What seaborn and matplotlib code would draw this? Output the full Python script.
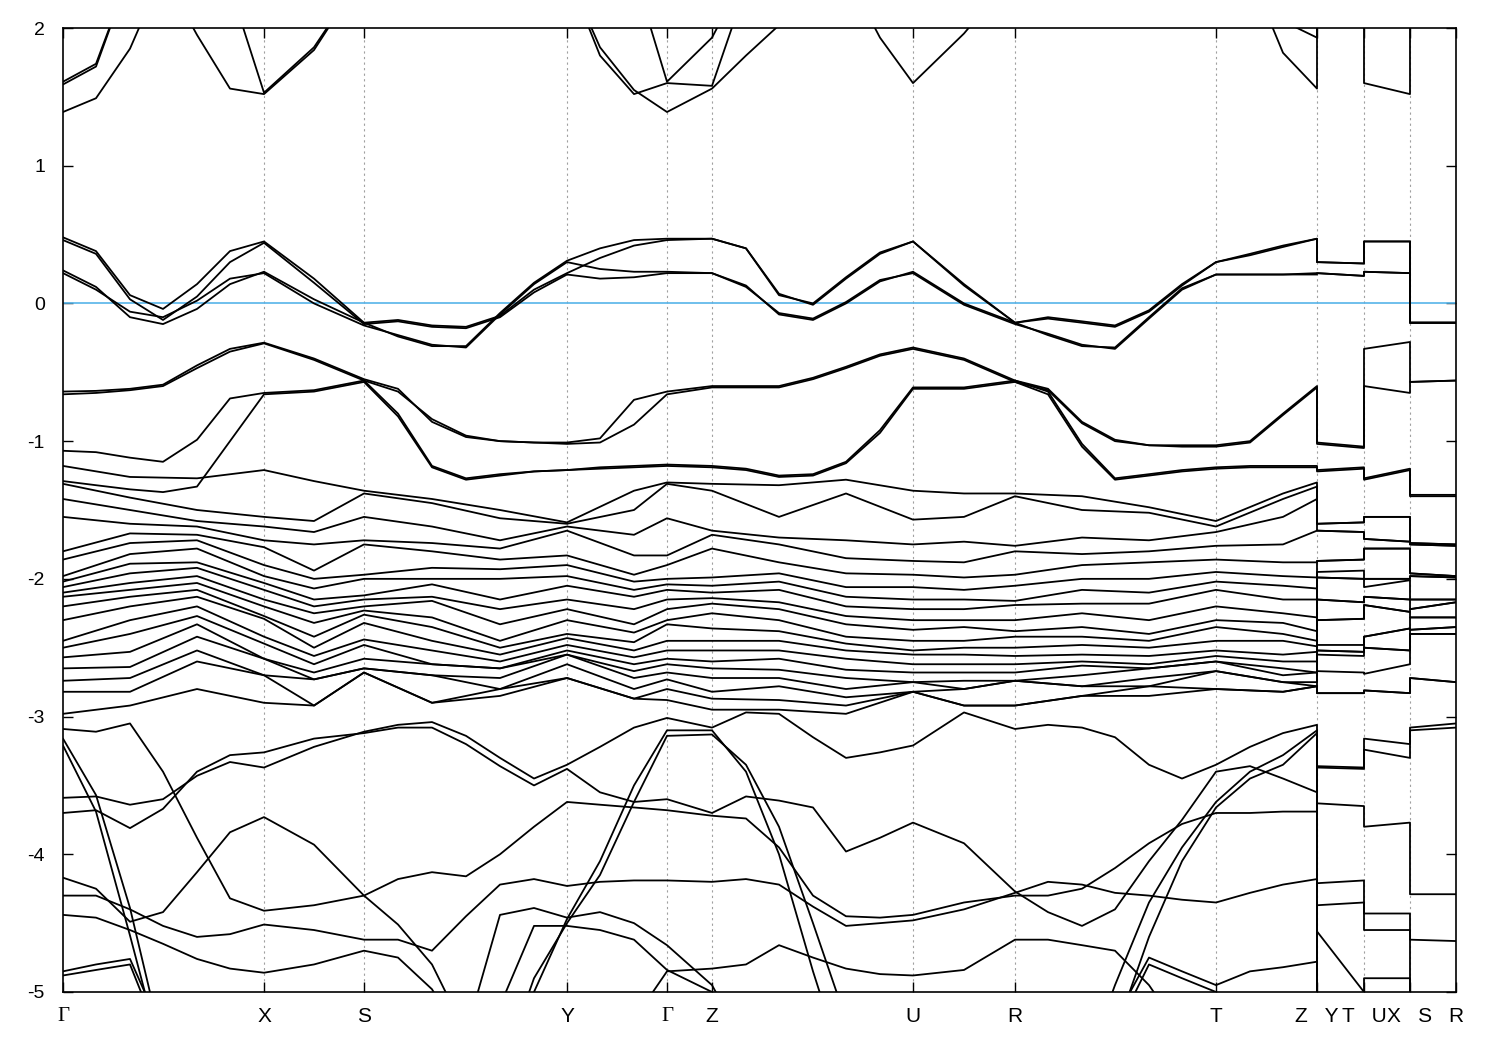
import numpy as np
import pandas as pd
import matplotlib
matplotlib.use('Agg')
import matplotlib.pyplot as plt
import seaborn as sns

# ── k-path ────────────────────────────────────────────────
K_TICKS  = [0, 201, 301, 504, 604, 649, 850, 952, 1153, 1254, 1301, 1347, 1393]
K_LABELS = ['Γ', 'X', 'S', 'Y', 'Γ', 'Z', 'U', 'R', 'T', 'Z   Y', 'T   U', 'X   S', 'R']

# main path  Γ-X-S-Y-Γ-Z-U-R-T-Z , then the short pieces Y-T | U-X | S-R
k_fine = [0, 33, 67, 100, 134, 167, 201, 251, 301, 335, 369, 403, 437, 471, 504,
          537, 571, 604, 649, 683, 716, 750, 783, 817, 850, 901, 952,
          985, 1019, 1052, 1086, 1119, 1153, 1187, 1220, 1254]
k_tail = [1254, 1301, 1301, 1347, 1347, 1393]
k_coarse = [0, 67, 134, 201, 251, 301, 369, 437, 504, 571, 604, 649, 716, 783,
            850, 901, 952, 1019, 1086, 1153, 1220, 1254]

# ── bands near the Fermi level (eV) ───────────────────────
band_f1 = [.48, .38, .06, -.04, .14, .38, .45,  .18, -.14,
           -.12, -.16, -.17, -.09, .10, .22,  .33, .42, .46,  .47,
           .40, .06, .00, .19, .37, .45,  .14, -.14,
           -.10, -.13, -.16, -.05, .14, .30,  .36, .42, .47,
           .30, .29, .45, .45, -.14, -.14]
band_f2 = [.46, .36, .03, -.12, .05, .30, .44,  .15, -.15,
           -.13, -.17, -.18, -.10, .08, .21,  .18, .19, .22,  .22,
           .13, -.08, -.12, .00, .16, .23,  .00, -.14,
           -.23, -.31, -.32, -.10, .11, .21,  .21, .21, .22,
           .22, .20, .23, .22, -.14, -.14]
band_f3 = [.24, .12, -.10, -.15, -.04, .14, .23,  .03, -.14,
           -.24, -.31, -.31, -.07, .15, .31,  .40, .46, .47,  .47,
           .40, .07, -.01, .18, .36, .45,  .13, -.14,
           -.11, -.14, -.17, -.06, .13, .30,  .35, .41, .47,
           .30, .29, .45, .45, -.14, -.14]
band_f4 = [.22, .10, -.06, -.10, .02, .18, .22,  .00, -.16,
           -.23, -.30, -.32, -.08, .14, .30,  .25, .23, .23,  .22,
           .12, -.07, -.11, .01, .17, .22,  -.01, -.15,
           -.22, -.30, -.33, -.11, .10, .21,  .21, .21, .21,
           .22, .20, .23, .22, -.14, -.14]

# ── conduction bands ──────────────────────────────────────
band_c1 = [1.39, 1.49, 1.85, 2.4, 1.95, 1.56, 1.52,  1.84, 2.4,
           2.4, 2.4, 2.4, 2.4, 2.4, 2.4,  1.86, 1.55, 1.39,  1.56,
           1.80, 2.02, 2.4, 2.4, 1.93, 1.60,  1.96, 2.4,
           2.4, 2.4, 2.4, 2.4, 2.4, 2.4,  2.4, 1.82, 1.56,
           2.4, 2.4, 1.60, 1.52, 2.4, 2.4]
band_c2 = [1.61, 1.74, 2.4, 2.4, 2.4, 2.3, 1.53,  1.86, 2.4,
           2.4, 2.4, 2.4, 2.4, 2.4, 2.4,  1.80, 1.52, 1.60,  1.58,
           2.3, 2.4, 2.4, 2.4, 2.4, 2.4,  2.4, 2.4,
           2.4, 2.4, 2.4, 2.4, 2.4, 2.4,  2.4, 2.05, 1.93,
           2.4, 2.4, 2.4, 2.4, 2.4, 2.4]
band_c3 = [1.59, 1.72, 2.4, 2.4, 2.4, 2.4, 2.4,  2.4, 2.4,
           2.4, 2.4, 2.4, 2.4, 2.4, 2.4,  2.4, 2.4, 1.61,  1.93,
           2.4, 2.4, 2.4, 2.4, 2.4, 2.4,  2.4, 2.4,
           2.4, 2.4, 2.4, 2.4, 2.4, 2.4,  2.4, 2.4, 2.4,
           2.4, 2.4, 2.4, 2.4, 2.4, 2.4]

# ── upper valence bands ───────────────────────────────────
band_v1 = [-.64, -.635, -.62, -.59, -.45, -.33, -.285,  -.40, -.55,
           -.62, -.86, -.97, -1.00, -1.01, -1.01,  -.98, -.70, -.64,  -.60,
           -.60, -.60, -.54, -.46, -.37, -.32,  -.40, -.56,
           -.62, -.86, -.99, -1.03, -1.03, -1.03,  -1.00, -.80, -.60,
           -1.01, -1.04, -.33, -.28, -.57, -.56]
band_v2 = [-1.07, -1.08, -1.12, -1.15, -.99, -.69, -.65,  -.63, -.56,
           -.80, -1.18, -1.27, -1.24, -1.22, -1.21,  -1.19, -1.18, -1.17,  -1.18,
           -1.20, -1.25, -1.24, -1.15, -.92, -.61,  -.61, -.56,
           -.64, -1.02, -1.27, -1.24, -1.21, -1.19,  -1.18, -1.18, -1.18,
           -1.21, -1.19, -1.27, -1.20, -1.39, -1.39]
band_v3 = [-.66, -.65, -.63, -.60, -.47, -.35, -.29,  -.41, -.56,
           -.64, -.84, -.96, -1.00, -1.01, -1.02,  -1.01, -.88, -.66,  -.61,
           -.61, -.61, -.55, -.47, -.38, -.33,  -.41, -.57,
           -.63, -.87, -1.00, -1.03, -1.04, -1.04,  -1.01, -.81, -.61,
           -1.02, -1.05, -.60, -.65, -.57, -.56]
band_v4 = [-1.29, -1.32, -1.35, -1.37, -1.33, -1.00, -.66,  -.64, -.57,
           -.82, -1.19, -1.28, -1.25, -1.22, -1.21,  -1.20, -1.19, -1.18,  -1.19,
           -1.21, -1.26, -1.25, -1.16, -.94, -.62,  -.62, -.57,
           -.66, -1.04, -1.28, -1.25, -1.22, -1.20,  -1.19, -1.19, -1.19,
           -1.22, -1.20, -1.28, -1.21, -1.40, -1.40]

# ── deep valence bands, traced one by one ─────────────────
band_la = [-3.59, -3.58, -3.64, -3.60, -3.43, -3.33, -3.37,  -3.22, -3.11,
           -3.06, -3.04, -3.14, -3.30, -3.45, -3.35,  -3.22, -3.08, -3.01,  -3.08,
           -2.97, -2.98, -3.15, -3.30, -3.26, -3.21,  -2.97, -3.09,
           -3.06, -3.08, -3.15, -3.35, -3.45, -3.35,  -3.22, -3.12, -3.06,
           -3.36, -3.37, -3.16, -3.20, -3.08, -3.05]
band_lb = [-3.70, -3.68, -3.81, -3.67, -3.40, -3.28, -3.26,  -3.16, -3.12,
           -3.08, -3.08, -3.20, -3.36, -3.50, -3.38,  -3.55, -3.62, -3.60,  -3.70,
           -3.58, -3.61, -3.66, -3.98, -3.88, -3.77,  -3.92, -4.27,
           -4.42, -4.52, -4.40, -4.05, -3.75, -3.40,  -3.36, -3.45, -3.55,
           -3.37, -3.38, -3.24, -3.30, -3.10, -3.08]
band_lc = [-3.09, -3.11, -3.05, -3.40, -3.88, -4.32, -4.41,  -4.37, -4.30,
           -4.18, -4.13, -4.16, -4.00, -3.80, -3.62,  -3.64, -3.66, -3.68,  -3.72,
           -3.74, -3.95, -4.30, -4.45, -4.46, -4.44,  -4.35, -4.30,
           -4.30, -4.25, -4.10, -3.92, -3.78, -3.70,  -3.70, -3.69, -3.69,
           -3.63, -3.65, -3.80, -3.77, -4.29, -4.29]
band_ld = [-4.17, -4.25, -4.49, -4.42, -4.13, -3.84, -3.73,  -3.93, -4.30,
           -4.51, -4.80, -5.30, -4.44, -4.39, -4.46,  -4.42, -4.50, -4.66,  -4.95,
           -5.40, -5.60, -5.60, -5.60, -5.60, -5.60,  -5.60, -5.60,
           -5.60, -5.60, -5.20, -4.75, -4.85, -4.95,  -4.85, -4.82, -4.78,
           -4.56, -5.00, -4.90, -4.90, -5.30, -5.30]
band_le = [-4.30, -4.30, -4.40, -4.52, -4.60, -4.58, -4.51,  -4.55, -4.62,
           -4.62, -4.70, -4.45, -4.22, -4.18, -4.23,  -4.20, -4.19, -4.19,  -4.20,
           -4.18, -4.22, -4.38, -4.52, -4.50, -4.48,  -4.40, -4.28,
           -4.20, -4.22, -4.28, -4.30, -4.33, -4.35,  -4.28, -4.22, -4.18,
           -4.21, -4.19, -4.43, -4.43, -4.62, -4.63]
band_lf = [-4.44, -4.46, -4.55, -4.65, -4.76, -4.83, -4.86,  -4.80, -4.70,
           -4.75, -4.98, -5.40, -5.60, -5.60, -5.60,  -5.60, -5.20, -4.85,  -4.83,
           -4.80, -4.66, -4.75, -4.83, -4.87, -4.88,  -4.84, -4.62,
           -4.62, -4.66, -4.70, -4.95, -5.30, -5.60,  -5.60, -5.60, -5.60,
           -5.60, -5.60, -5.60, -5.60, -5.60, -5.60]
band_lg = [-4.85, -4.80, -4.76, -5.30, -5.60, -5.60, -5.60,  -5.60, -5.60,
           -5.60, -5.60, -5.60, -5.10, -4.52, -4.52,  -4.55, -4.62, -4.84,  -5.00,
           -5.40, -5.60, -5.60, -5.60, -5.60, -5.60,  -5.60, -5.60,
           -5.60, -5.60, -5.30, -4.80, -4.90, -5.00,  -5.20, -5.40, -5.60,
           -4.37, -4.35, -4.55, -4.55, -5.40, -5.40]
band_lh = [-4.88, -4.84, -4.80, -5.40, -5.60, -5.60, -5.60,  -5.60, -5.60,
           -5.60, -5.60, -5.60, -5.60, -5.60, -5.60,  -5.60, -5.60, -5.60,  -5.60,
           -5.60, -5.60, -5.60, -5.60, -5.60, -5.60,  -5.60, -5.60,
           -5.60, -5.60, -5.60, -5.60, -5.60, -5.60,  -5.60, -5.60, -5.60,
           -5.60, -5.60, -5.60, -5.60, -5.60, -5.60]
band_s1 = [-3.16, -3.57, -4.39, -5.40, -5.60, -5.60, -5.60,  -5.60, -5.60,
           -5.60, -5.60, -5.60, -5.60, -5.00, -4.47,  -4.05, -3.50, -3.10,  -3.10,
           -3.40, -4.00, -4.85, -5.60, -5.60, -5.60,  -5.60, -5.60,
           -5.60, -5.60, -4.95, -4.35, -3.95, -3.62,  -3.40, -3.28, -3.10,
           -5.60, -5.60, -5.60, -5.60, -5.60, -5.60]
band_s2 = [-3.21, -3.69, -4.59, -5.50, -5.60, -5.60, -5.60,  -5.60, -5.60,
           -5.60, -5.60, -5.60, -5.60, -4.90, -4.50,  -4.15, -3.62, -3.14,  -3.13,
           -3.35, -3.80, -4.50, -5.20, -5.60, -5.60,  -5.60, -5.60,
           -5.60, -5.60, -5.30, -4.60, -4.05, -3.66,  -3.45, -3.35, -3.12,
           -5.60, -5.60, -5.60, -5.60, -5.60, -5.60]

# ── middle valence manifold (-1.2 … -3 eV): energies at each coarse k-point ──
# (a repeated value = two degenerate bands)
e_c00 = [-1.18, -1.31, -1.42, -1.55, -1.80, -1.86, -1.98, -2.02, -2.06, -2.10,
         -2.13, -2.20, -2.30, -2.45, -2.50, -2.57, -2.65, -2.74, -2.82, -2.98]
e_c01 = [-1.26, -1.41, -1.50, -1.60, -1.67, -1.74, -1.82, -1.89, -1.96, -2.03,
         -2.08, -2.13, -2.20, -2.30, -2.40, -2.53, -2.64, -2.72, -2.82, -2.92]
e_c02 = [-1.27, -1.50, -1.58, -1.62, -1.68, -1.72, -1.78, -1.88, -1.92, -1.98,
         -2.03, -2.08, -2.13, -2.20, -2.27, -2.33, -2.42, -2.52, -2.60, -2.80]
e_c03 = [-1.21, -1.55, -1.62, -1.72, -1.77, -1.90, -1.98, -2.03, -2.08, -2.15,
         -2.20, -2.27, -2.29, -2.42, -2.47, -2.58, -2.58, -2.70, -2.70, -2.90]
e_c04 = [-1.29, -1.58, -1.66, -1.75, -1.94, -2.00, -2.07, -2.15, -2.20, -2.25,
         -2.32, -2.42, -2.50, -2.56, -2.62, -2.68, -2.73, -2.73, -2.92, -2.92]
e_c05 = [-1.36, -1.38, -1.55, -1.72, -1.75, -1.97, -2.00, -2.12, -2.15, -2.20,
         -2.23, -2.26, -2.32, -2.44, -2.48, -2.58, -2.65, -2.65, -2.68, -2.68]
e_c06 = [-1.42, -1.45, -1.62, -1.74, -1.80, -1.92, -2.00, -2.04, -2.13, -2.16,
         -2.28, -2.35, -2.45, -2.52, -2.62, -2.62, -2.70, -2.70, -2.90, -2.90]
e_c07 = [-1.50, -1.56, -1.72, -1.78, -1.86, -1.93, -2.00, -2.15, -2.22, -2.33,
         -2.45, -2.50, -2.55, -2.60, -2.65, -2.65, -2.72, -2.80, -2.80, -2.85]
e_c08 = [-1.59, -1.60, -1.62, -1.65, -1.83, -1.90, -1.98, -2.05, -2.15, -2.22,
         -2.30, -2.40, -2.43, -2.48, -2.52, -2.55, -2.55, -2.62, -2.72, -2.72]
e_c09 = [-1.36, -1.50, -1.68, -1.83, -1.97, -2.02, -2.08, -2.13, -2.22, -2.33,
         -2.39, -2.46, -2.52, -2.57, -2.62, -2.67, -2.72, -2.80, -2.87, -2.87]
e_c10 = [-1.30, -1.31, -1.56, -1.83, -1.90, -2.00, -2.04, -2.08, -2.15, -2.22,
         -2.30, -2.33, -2.45, -2.52, -2.58, -2.62, -2.68, -2.73, -2.80, -2.88]
e_c11 = [-1.31, -1.36, -1.65, -1.68, -1.78, -1.99, -2.05, -2.10, -2.14, -2.18,
         -2.25, -2.36, -2.45, -2.52, -2.60, -2.65, -2.72, -2.82, -2.87, -2.95]
e_c12 = [-1.32, -1.55, -1.70, -1.75, -1.88, -1.96, -2.02, -2.08, -2.17, -2.22,
         -2.30, -2.38, -2.45, -2.52, -2.58, -2.66, -2.72, -2.78, -2.88, -2.95]
e_c13 = [-1.28, -1.38, -1.72, -1.85, -1.96, -2.06, -2.13, -2.20, -2.27, -2.33,
         -2.42, -2.47, -2.52, -2.58, -2.66, -2.72, -2.80, -2.86, -2.92, -2.98]
e_c14 = [-1.36, -1.57, -1.75, -1.87, -1.97, -2.06, -2.15, -2.22, -2.30, -2.37,
         -2.45, -2.52, -2.55, -2.62, -2.68, -2.75, -2.75, -2.82, -2.82, -2.82]
e_c15 = [-1.38, -1.55, -1.73, -1.88, -1.99, -2.08, -2.15, -2.22, -2.30, -2.35,
         -2.45, -2.50, -2.55, -2.62, -2.68, -2.74, -2.80, -2.80, -2.92, -2.92]
e_c16 = [-1.38, -1.40, -1.76, -1.80, -1.97, -2.05, -2.16, -2.19, -2.30, -2.38,
         -2.42, -2.50, -2.56, -2.62, -2.68, -2.74, -2.74, -2.74, -2.92, -2.92]
e_c17 = [-1.40, -1.50, -1.70, -1.82, -1.90, -2.00, -2.08, -2.18, -2.25, -2.35,
         -2.42, -2.48, -2.55, -2.60, -2.63, -2.70, -2.78, -2.78, -2.85, -2.85]
e_c18 = [-1.48, -1.52, -1.72, -1.80, -1.88, -2.00, -2.10, -2.18, -2.30, -2.40,
         -2.45, -2.50, -2.56, -2.62, -2.65, -2.65, -2.72, -2.78, -2.78, -2.85]
e_c19 = [-1.58, -1.62, -1.66, -1.76, -1.86, -1.95, -2.02, -2.08, -2.20, -2.30,
         -2.35, -2.45, -2.52, -2.56, -2.60, -2.60, -2.67, -2.67, -2.80, -2.80]
e_c20 = [-1.38, -1.42, -1.55, -1.75, -1.88, -1.98, -2.05, -2.15, -2.25, -2.32,
         -2.40, -2.45, -2.55, -2.60, -2.65, -2.70, -2.75, -2.75, -2.82, -2.82]
e_c21 = [-1.30, -1.33, -1.42, -1.65, -1.88, -1.99, -2.07, -2.15, -2.28, -2.38,
         -2.45, -2.49, -2.53, -2.60, -2.68, -2.68, -2.75, -2.78, -2.78, -2.78]
# short pieces Y-T | U-X | S-R (pairs are degenerate there)
e_tY = [-1.60, -1.60, -1.65, -1.65, -1.87, -1.87, -1.95, -1.99, -1.99, -2.15,
        -2.15, -2.30, -2.30, -2.48, -2.52, -2.52, -2.55, -2.67, -2.83, -2.83]
e_tT = [-1.59, -1.59, -1.66, -1.66, -1.86, -1.86, -1.94, -2.00, -2.00, -2.17,
        -2.17, -2.29, -2.29, -2.48, -2.53, -2.53, -2.56, -2.68, -2.83, -2.83]
e_tU = [-1.55, -1.55, -1.71, -1.71, -1.78, -1.78, -2.00, -2.00, -2.06, -2.13,
        -2.13, -2.19, -2.19, -2.42, -2.42, -2.50, -2.50, -2.69, -2.81, -2.81]
e_tX = [-1.55, -1.55, -1.73, -1.73, -1.78, -1.78, -2.00, -2.00, -2.01, -2.15,
        -2.15, -2.24, -2.24, -2.36, -2.36, -2.52, -2.52, -2.62, -2.83, -2.83]
e_tS = [-1.74, -1.74, -1.75, -1.75, -1.96, -1.96, -1.98, -1.98, -2.15, -2.15,
        -2.22, -2.22, -2.28, -2.28, -2.37, -2.37, -2.40, -2.40, -2.72, -2.72]
e_tR = [-1.75, -1.75, -1.76, -1.76, -1.98, -1.98, -1.99, -1.99, -2.15, -2.15,
        -2.17, -2.17, -2.28, -2.28, -2.35, -2.35, -2.40, -2.40, -2.75, -2.75]

# ── build long table ──────────────────────────────────────
rows = []
fine_bands = [band_f1, band_f2, band_f3, band_f4, band_c1, band_c2, band_c3,
              band_v1, band_v2, band_v3, band_v4,
              band_la, band_lb, band_lc, band_ld, band_le, band_lf, band_lg,
              band_lh, band_s1, band_s2]
k_full = k_fine + k_tail
for b, vals in enumerate(fine_bands):
    for i, (k, e) in enumerate(zip(k_full, vals)):
        rows.append({'band': f'b{b}', 'order': i, 'k': k, 'E': e})

mid_cols = [e_c00, e_c01, e_c02, e_c03, e_c04, e_c05, e_c06, e_c07, e_c08, e_c09, e_c10,
            e_c11, e_c12, e_c13, e_c14, e_c15, e_c16, e_c17, e_c18, e_c19, e_c20, e_c21,
            e_tY, e_tT, e_tU, e_tX, e_tS, e_tR]
k_mid = k_coarse + k_tail
for i, (k, col) in enumerate(zip(k_mid, mid_cols)):
    for n, e in enumerate(sorted(col, reverse=True)):
        rows.append({'band': f'm{n}', 'order': i, 'k': k, 'E': e})

df = pd.DataFrame(rows)

# ── plot ──────────────────────────────────────────────────
sns.set_style('ticks')
plt.rcParams['font.family'] = ['Liberation Sans', 'DejaVu Sans']
plt.rcParams['axes.unicode_minus'] = False

fig = plt.figure(figsize=(15, 10.5), dpi=100)
ax = fig.add_axes([63 / 1500, 58 / 1050, 1393 / 1500, 964 / 1050])

for kx in K_TICKS[1:-1]:
    ax.axvline(kx, color='#a0a0a0', lw=0.8, ls=(0, (2, 3)), zorder=0)
ax.axhline(0, color='#56b4e9', lw=1.2, zorder=1)

sns.lineplot(data=df, x='k', y='E', units='band', estimator=None, sort=False,
             color='black', lw=1.3, legend=False, ax=ax, zorder=2)

ax.set_xlim(0, 1393)
ax.set_ylim(-5, 2)
ax.set_xticks(K_TICKS)
ax.set_xticklabels(K_LABELS)
ax.set_yticks(range(-5, 3))
ax.set_yticklabels([str(v) for v in range(-5, 3)])
ax.set_xlabel('')
ax.set_ylabel('')
ax.tick_params(direction='in', length=7, width=1.0, top=True, right=True,
               labelsize=14, colors='black')
ax.tick_params(axis='x', pad=11, labelsize=15)
ax.tick_params(axis='y', pad=13)
for lbl in ax.get_xticklabels():
    if lbl.get_text() == 'Γ':
        lbl.set_fontfamily(['Liberation Serif', 'DejaVu Serif'])
for sp in ax.spines.values():
    sp.set_color('black')
    sp.set_linewidth(1.2)

fig.savefig('out.png', dpi=100)
plt.close(fig)
